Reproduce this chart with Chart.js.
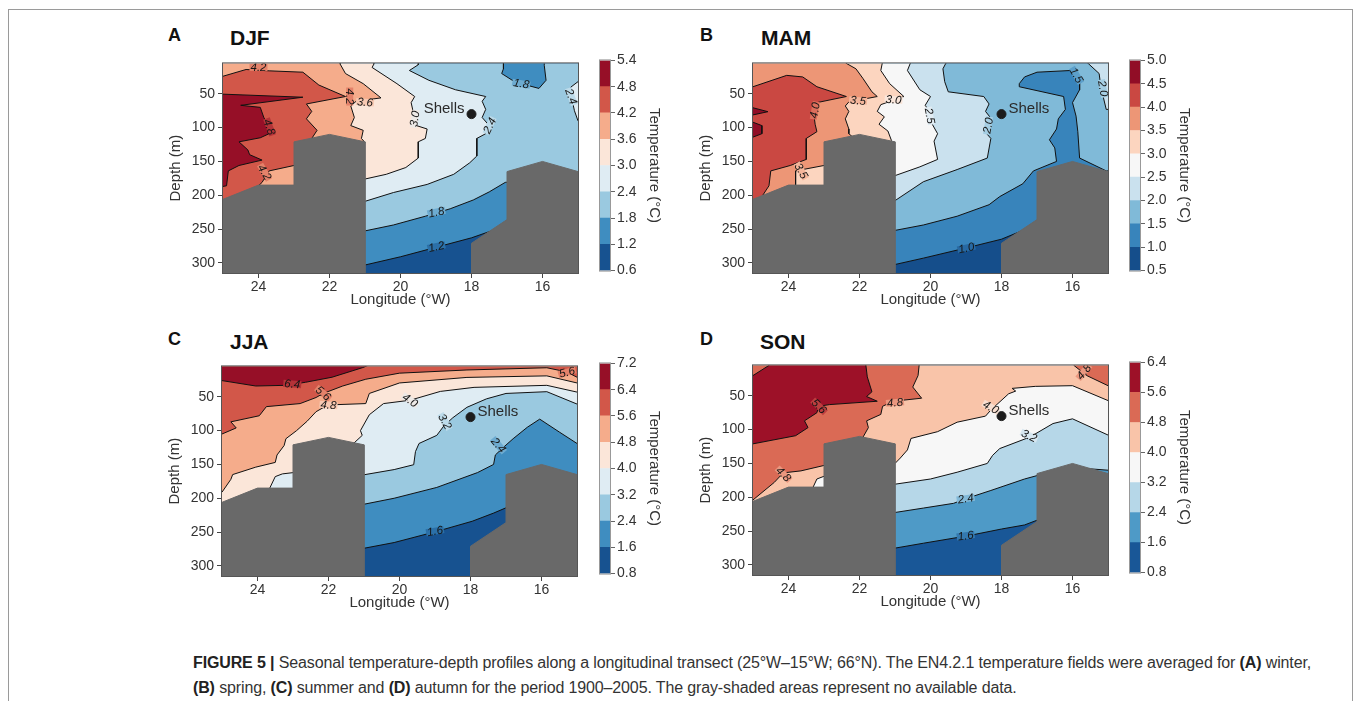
<!DOCTYPE html>
<html>
<head>
<meta charset="utf-8">
<script src="https://cdn.jsdelivr.net/npm/chart.js@4.4.1/dist/chart.umd.min.js"></script>
<style>
  body { margin: 0; background: #fff; font-family: "Liberation Sans", Arial, sans-serif; }
  #frame { position: absolute; left: 8px; top: 9px; width: 1343px; height: 730px; border: 1px solid #9a9a9a; }
  canvas { position: absolute; }
  .tag { position: absolute; font-weight: bold; color: #111; line-height: 1; }
  .cap { position: absolute; left: 193px; font-size: 16px; letter-spacing: -0.13px; color: #333; white-space: nowrap; line-height: 18px; }
  .cap b { color: #222; }
</style>
</head>
<body>
<div id="frame"></div>

<div class="tag" style="left:168px;top:26px;font-size:18px">A</div>
<div class="tag" style="left:230px;top:27px;font-size:21px">DJF</div>
<div class="tag" style="left:700px;top:26px;font-size:18px">B</div>
<div class="tag" style="left:761px;top:27px;font-size:21px">MAM</div>
<div class="tag" style="left:168px;top:330px;font-size:18px">C</div>
<div class="tag" style="left:230px;top:331px;font-size:21px">JJA</div>
<div class="tag" style="left:700px;top:330px;font-size:18px">D</div>
<div class="tag" style="left:760px;top:331px;font-size:21px">SON</div>

<canvas id="djf" width="421" height="257" style="left:163px;top:52px"></canvas>
<canvas id="djfBar" width="64" height="231" style="left:599px;top:50px"></canvas>
<canvas id="mam" width="421" height="257" style="left:693px;top:52px"></canvas>
<canvas id="mamBar" width="64" height="231" style="left:1129px;top:50px"></canvas>
<canvas id="jja" width="421" height="257" style="left:162px;top:355px"></canvas>
<canvas id="jjaBar" width="64" height="231" style="left:599px;top:353px"></canvas>
<canvas id="son" width="421" height="257" style="left:693px;top:354px"></canvas>
<canvas id="sonBar" width="64" height="231" style="left:1129px;top:352px"></canvas>

<div class="cap" style="top:654px"><b>FIGURE 5 |</b> Seasonal temperature-depth profiles along a longitudinal transect (25°W–15°W; 66°N). The EN4.2.1 temperature fields were averaged for <b>(A)</b> winter,</div>
<div class="cap" style="top:679px"><b>(B)</b> spring, <b>(C)</b> summer and <b>(D)</b> autumn for the period 1900–2005. The gray-shaded areas represent no available data.</div>

<script>
// axes
var lonTicks = [24, 22, 20, 18, 16];
var depthTicks = [50, 100, 150, 200, 250, 300];
var shells = [18.0, 80];

// no-data areas (lon °W, depth m)
var grayLeft = [[25.6,206],[25,206],[24,185],[23,185],[23,121],[22,110],[21,121],[21,340],[25.6,340]];
var grayRight = [[18,340],[18,271],[17,236],[17,165],[16,150],[15,165],[14.4,165],[14.4,340]];

// DJF: contour levels, regions warmer than a level [level, outline], labels [lon, depth, text, angle]
var djfLevels = [0.6, 1.2, 1.8, 2.4, 3.0, 3.6, 4.2, 4.8, 5.4];
var djfRegions = [
  [1.2, [[25.6,305],[21.15,305],[20.0,291],[19.0,277],[18.0,263],[17.4,252],[16.5,238],[14.4,238],[14.4,-20],[25.6,-20]]],
  [1.8, [[25.6,256],[21.3,256],[20.2,244],[19.3,231],[18.6,220],[17.95,207],[17.5,195],[17.05,181],[16.0,175],[14.4,175],[14.4,-20],[25.6,-20]]],
  [2.4, [[19.5,-20],[19.5,7],[19.75,15.5],[19.2,30],[18.45,44],[17.6,54],[17.7,61],[17.6,73],[17.7,85],[17.5,97],[17.6,109],[17.85,116],[17.85,142],[18.05,152],[18.5,169],[19.25,184],[20.2,196],[21.0,209],[21.5,222],[25.6,222],[25.6,-20]]],
  [3.0, [[20.75,-20],[20.75,6],[20.8,11],[20.1,35],[19.6,54],[19.7,63],[19.65,75],[19.6,87],[19.55,97],[19.25,102],[19.3,116],[19.5,121],[19.5,145],[19.85,159],[20.4,169],[21.0,176],[21.5,186],[21.5,230],[25.6,230],[25.6,-20]]],
  [3.6, [[21.7,-20],[21.7,6],[21.55,20],[21.05,35],[20.55,56],[21.25,61],[21.4,68],[21.3,85],[21.4,97],[21.05,104],[21.1,116],[21.0,122],[21.5,140],[21.5,240],[25.6,240],[25.6,-20]]],
  [4.2, [[25.6,24],[25.0,24],[24.35,14],[23.7,16],[22.75,18],[22.3,37],[21.55,54],[22.65,65],[22.5,76],[22.65,87],[22.35,104],[22.5,116],[22.7,126],[22.95,152],[23.0,156],[23.7,164],[23.9,181],[24.0,186],[24.15,219],[25.6,219]]],
  [4.8, [[25.6,50.5],[25.0,50.5],[22.75,55],[24.5,67],[23.95,70],[23.85,85],[23.75,95],[23.7,109],[23.95,115],[24.55,121],[24.3,133],[24.25,140],[23.9,148],[24.55,156],[24.85,164],[24.9,186],[25.0,187],[25.6,187]]],
  [1.2, [[17.1,-20],[17.1,13],[17.15,20],[16.85,30],[16.6,35],[16.1,42],[15.9,30],[15.95,8],[15.95,-20]]],
  [2.4, [[14.4,32],[15.0,32],[15.2,40],[15.3,49],[15.15,63],[15.1,75],[15.0,90],[14.4,90]]]
];
var djfLabels = [[24.0,11,'4.2',0],[21.43,54,'4.2',90],[21.0,62.5,'3.6',5],[23.69,99,'4.8',70],[19.6,87,'3.0',-80],
  [17.49,97,'2.4',-65],[16.6,35,'1.8',10],[15.19,54,'2.4',70],[18.99,225,'1.8',-12],[18.99,276,'1.2',-12],[23.83,166,'4.2',60]];

// MAM
var mamLevels = [0.5, 1.0, 1.5, 2.0, 2.5, 3.0, 3.5, 4.0, 4.5, 5.0];
var mamRegions = [
  [1.0, [[25.6,306],[21.3,306],[20.2,293],[19.0,278],[18.0,265],[17.4,252],[16.5,238],[14.4,238],[14.4,-20],[25.6,-20]]],
  [1.5, [[25.6,255],[21.3,255],[20.2,244],[19.25,231],[18.35,214],[18.05,202],[17.4,183],[17.1,164],[16.45,150],[16.5,130],[16.65,118],[16.45,102],[16.4,87],[16.2,73],[16.25,54],[17.5,39.5],[17.5,35],[17.35,25],[17.0,18],[16.05,15.5],[15.8,27.5],[15.8,44],[16.0,63],[15.9,83],[15.85,106],[15.8,145],[15.05,164],[14.4,164],[14.4,-20],[25.6,-20]]],
  [2.0, [[19.57,-20],[19.57,5],[19.65,13],[19.6,32],[19.5,47],[18.5,54],[18.35,65],[18.45,76],[18.3,86],[18.45,107],[18.3,116],[18.4,145],[19.25,162],[20.2,180],[21.0,208],[21.5,219],[25.6,219],[25.6,-20]]],
  [2.5, [[20.57,-20],[20.57,5],[20.65,15.5],[20.3,44],[20.0,54],[20.15,67],[20.0,78],[19.95,95],[19.8,109],[19.9,120],[19.8,147],[20.3,158],[21.0,171],[21.5,181],[21.5,230],[25.6,230],[25.6,-20]]],
  [3.0, [[21.36,-20],[21.36,5],[21.4,15.5],[21.15,35],[20.75,54],[21.4,66],[21.5,76],[21.3,84],[21.45,95],[21.2,105],[21.1,119],[21.5,142],[21.5,240],[25.6,240],[25.6,-20]]],
  [3.5, [[22.37,-20],[22.37,5],[22.1,13],[21.9,27.5],[21.65,47],[21.5,54],[22.3,62],[22.4,68],[22.3,76],[22.4,87],[22.3,102],[22.3,109],[22.1,118],[22.4,133],[22.95,152],[23.0,156],[23.8,164],[23.8,185],[24.0,219],[25.6,219],[25.6,-20]]],
  [4.0, [[25.6,39.5],[25.0,39.5],[24.05,22.7],[23.6,25],[23.2,39.5],[22.37,54],[23.2,63],[23.3,75],[23.25,95],[23.2,106],[23.5,116],[23.5,147],[23.95,156],[24.5,164],[24.55,186],[24.75,202],[24.9,219],[25.6,219]]],
  [4.5, [[25.6,70.6],[25.0,70.6],[24.58,76.4],[25.0,81.2],[25.6,81.2]]],
  [4.5, [[25.6,92],[25.0,92],[24.75,97],[24.75,109],[25.0,114],[25.6,114]]],
  [2.0, [[15.56,-20],[15.56,5],[15.25,20],[15.2,40],[15.05,73],[14.4,73],[14.4,-20]]]
];
var mamLabels = [[23.26,74.5,'4.0',-80],[22.04,60,'3.5',5],[21.04,58.6,'3.0',5],[20.02,82.6,'2.5',80],[18.38,97,'2.0',-80],
  [15.89,22.7,'1.5',60],[15.14,42,'2.0',80],[23.64,164,'3.5',60],[18.99,278,'1.0',-12]];

// JJA
var jjaLevels = [0.8, 1.6, 2.4, 3.2, 4.0, 4.8, 5.6, 6.4, 7.2];
var jjaRegions = [
  [1.6, [[25.6,277],[21.3,277],[20.15,265.5],[18.95,249],[17.95,234],[17.35,222],[16.95,213],[16.4,196],[14.4,196],[14.4,-20],[25.6,-20]]],
  [2.4, [[25.6,230],[21.5,230],[21.3,212],[20.15,200],[18.95,184],[17.8,162],[17.35,150],[17.3,136],[17.1,126],[16.8,112],[16.4,95],[16.05,83],[15.5,102],[15.0,119],[14.4,119],[14.4,-20],[25.6,-20]]],
  [3.2, [[25.6,240],[21.5,240],[21.3,168],[20.15,157.6],[19.6,150.4],[19.55,131],[19.45,119],[18.95,107],[18.75,93],[18.5,81],[18.1,65.5],[17.55,53],[17.0,45],[15.85,42.4],[15.0,60.7],[14.4,60.7],[14.4,-20],[25.6,-20]]],
  [4.0, [[25.6,240],[21.5,240],[21.5,129],[21.05,107],[21.1,100],[20.85,76.5],[20.45,60],[19.7,55],[18.85,42],[17.9,36],[15.85,33],[15.0,43],[14.4,43],[14.4,-20],[25.6,-20]]],
  [4.8, [[25.6,191],[25.0,191],[24.75,172],[24.7,165],[24.05,154],[23.5,147],[23.45,136],[23.25,122],[23.2,112],[22.9,100],[22.6,86],[22.35,72],[22.15,66],[22.0,62],[20.95,60],[20.85,45],[20.0,29.5],[18.1,21.3],[15.85,19],[15.0,29.5],[14.4,29.5],[14.4,-20],[25.6,-20]]],
  [5.6, [[25.6,105],[25.0,105],[24.6,96],[24.75,87],[23.95,78],[23.75,64.5],[22.8,60],[22.35,51],[22.15,45],[21.6,34],[20.95,24],[20.0,15],[18.1,10.3],[15.85,7],[15.3,13],[15.0,21],[14.4,21],[14.4,-20],[25.6,-20]]],
  [6.4, [[25.6,26],[25.0,26],[24.05,34],[23.2,33],[22.65,28.5],[21.9,21],[21.05,7],[20.9,4],[20.9,-20],[25.6,-20]]],
  [3.2, [[23.7,190],[23.5,168],[23.3,164],[22.98,162],[22.8,190]]]
];
var jjaLabels = [[23.02,31,'6.4',5],[22.15,44.8,'5.6',40],[22.0,62,'4.8',5],[19.7,55,'4.0',35],[18.72,86.6,'3.2',60],
  [17.21,121.6,'2.4',50],[19.0,248.7,'1.6',-10],[15.28,13.6,'5.6',-15]];

// SON
var sonLevels = [0.8, 1.6, 2.4, 3.2, 4.0, 4.8, 5.6, 6.4];
var sonRegions = [
  [1.6, [[25.6,278],[21.3,278],[20.2,268],[18.95,257],[18.0,247],[17.35,241],[17.0,234],[16.4,226],[14.4,226],[14.4,-20],[25.6,-20]]],
  [2.4, [[25.6,240],[21.5,240],[21.3,225],[20.2,216],[19.35,209],[19.0,202],[18.3,190],[17.35,173],[17.0,168],[16.0,156],[15.0,160],[14.4,160],[14.4,-20],[25.6,-20]]],
  [3.2, [[25.6,240],[21.5,240],[21.3,183],[20.0,173],[19.25,163],[18.4,150],[18.25,138],[18.05,128],[17.2,111],[16.55,91],[16.0,84],[15.0,108],[14.4,108],[14.4,-20],[25.6,-20]]],
  [4.0, [[25.6,240],[21.5,240],[21.3,152],[21.0,150],[20.85,142],[20.65,130],[20.55,113],[19.8,103],[19.25,89],[18.45,80],[18.3,71],[17.8,47],[17.6,43],[17.7,39],[17.05,36],[16.0,35],[15.0,57],[14.4,57],[14.4,-20],[25.6,-20]]],
  [4.8, [[20.32,-20],[20.32,5],[20.35,20],[20.5,37],[20.25,53.5],[21.05,58],[21.35,65.5],[21.4,77.5],[21.8,87],[21.75,97],[21.9,111],[22.1,130],[22.9,149],[23.0,153],[23.65,161],[24.15,164],[24.4,178],[25.0,204],[25.6,204],[25.6,-20]]],
  [4.8, [[16.0,-20],[15.96,5],[15.6,20],[15.0,35],[14.4,35],[14.4,-20]]],
  [5.6, [[25.6,20],[25.0,20],[24.55,5],[24.55,-20],[21.82,-20],[21.82,5],[21.78,22],[21.65,44],[21.8,51],[21.5,58],[22.85,63],[23.15,65.5],[23.2,75],[23.55,87],[23.45,97],[23.8,109],[25.0,121],[25.6,121]]],
  [3.2, [[23.35,190],[23.2,173],[23.0,169],[22.8,190]]]
];
var sonLabels = [[23.14,65.5,'5.6',45],[21.0,60,'4.8',-5],[24.14,166,'4.8',45],[15.68,14.6,'4.8',-50],[18.3,67,'4.0',30],
  [17.22,109,'3.2',25],[19.01,202,'2.4',-8],[19.01,257,'1.6',-8]];

var FONT = '"Liberation Sans", Arial, sans-serif';
var GRAY = '#696969';
var RDBU = [[5,48,97],[33,102,172],[67,147,195],[146,197,222],[209,229,240],[247,247,247],
            [253,219,199],[244,165,130],[214,96,77],[178,24,43],[103,0,31]];

function rdbu(t) {
  var p = t * 10, i = Math.min(9, Math.floor(p)), f = p - i;
  var a = RDBU[i], b = RDBU[i + 1];
  return a.map(function (v, k) { return Math.round(v + (b[k] - v) * f); });
}
function bandRgb(levels) {
  var n = levels.length - 1, out = [];
  for (var i = 0; i < n; i++) out.push(rdbu((i + 0.5) / n));
  return out;
}
function css(c) { return 'rgb(' + c.join(',') + ')'; }
function levelIndex(levels, t) {
  for (var i = 0; i < levels.length; i++) if (Math.abs(levels[i] - t) < 1e-6) return i;
  return 0;
}

function decor(labels, levels, cols, side) {
  return {
    id: 'decor',
    afterDatasetsDraw: function (chart) {
      var ctx = chart.ctx, a = chart.chartArea, x = chart.scales.x, y = chart.scales.y;
      ctx.save();
      ctx.beginPath(); ctx.rect(a.left, a.top, a.width, a.height); ctx.clip();
      ctx.font = 'italic 11.5px ' + FONT;
      ctx.textAlign = 'center'; ctx.textBaseline = 'middle';
      labels.forEach(function (l) {
        var k = levelIndex(levels, parseFloat(l[2]));
        var lo = cols[Math.max(0, k - 1)], hi = cols[Math.min(cols.length - 1, k)];
        var mix = lo.map(function (v, j) { return Math.round((v + hi[j]) / 2); });
        ctx.save();
        ctx.translate(x.getPixelForValue(l[0]), y.getPixelForValue(l[1]));
        ctx.rotate(l[3] * Math.PI / 180);
        var w = ctx.measureText(l[2]).width;
        ctx.fillStyle = css(mix);
        ctx.fillRect(-w / 2 - 1, -3.5, w + 2, 7);
        ctx.fillStyle = '#151515';
        ctx.fillText(l[2], 0, 0.5);
        ctx.restore();
      });
      var sx = x.getPixelForValue(shells[0]), sy = y.getPixelForValue(shells[1]);
      ctx.font = '15px ' + FONT;
      ctx.fillStyle = '#2a2a2a';
      ctx.textAlign = side < 0 ? 'right' : 'left';
      ctx.fillText('Shells', sx + side * 7, sy - 5);
      ctx.restore();
      ctx.save();
      ctx.strokeStyle = '#555'; ctx.lineWidth = 1;
      ctx.strokeRect(a.left - 0.5, a.top - 0.5, a.width + 1, a.height + 1);
      ctx.restore();
    }
  };
}

function panel(id, levels, regions, labels, side) {
  var cols = bandRgb(levels);
  var seq = [{ pts: [[25.6,-20],[14.4,-20],[14.4,340],[25.6,340]], color: css(cols[0]), kind: 'base' }];
  regions.forEach(function (r) {
    seq.push({ pts: r[1], color: css(cols[levelIndex(levels, r[0])]), kind: 'band' });
  });
  seq.push({ pts: grayLeft, color: GRAY, kind: 'gray' });
  seq.push({ pts: grayRight, color: GRAY, kind: 'gray' });

  var datasets = seq.map(function (s, i) {
    return {
      type: 'scatter',
      data: s.pts.map(function (p) { return { x: p[0], y: p[1] }; }),
      showLine: true,
      fill: 'shape',
      backgroundColor: s.color,
      borderColor: s.kind === 'band' ? '#111' : s.color,
      borderWidth: s.kind === 'base' ? 0 : 1,
      borderJoinStyle: 'round',
      pointRadius: 0,
      pointHoverRadius: 0,
      tension: 0,
      clip: 0,
      order: -i
    };
  });
  datasets.push({
    type: 'scatter',
    data: [{ x: shells[0], y: shells[1] }],
    pointRadius: 4.5,
    backgroundColor: '#1c1c1c',
    borderColor: '#1c1c1c',
    order: -1000
  });

  new Chart(document.getElementById(id), {
    type: 'scatter',
    data: { datasets: datasets },
    options: {
      responsive: false,
      animation: false,
      events: [],
      devicePixelRatio: 1,
      layout: { padding: { left: 0, top: 6, right: 6, bottom: 0 } },
      plugins: { legend: { display: false }, tooltip: { enabled: false } },
      scales: {
        x: {
          type: 'linear', reverse: true, min: 15, max: 25,
          afterBuildTicks: function (s) { s.ticks = lonTicks.map(function (v) { return { value: v }; }); },
          afterFit: function (s) { s.height = 36; },
          ticks: { color: '#333', font: { size: 14, family: FONT }, padding: 1, maxRotation: 0 },
          grid: { drawOnChartArea: false, tickLength: 5, color: '#444' },
          border: { display: false },
          title: { display: true, text: 'Longitude (°W)', color: '#333', font: { size: 15, family: FONT }, padding: 0 }
        },
        y: {
          type: 'linear', reverse: true, min: 5, max: 315,
          afterBuildTicks: function (s) { s.ticks = depthTicks.map(function (v) { return { value: v }; }); },
          afterFit: function (s) { s.width = 60; },
          ticks: { color: '#333', font: { size: 14, family: FONT }, padding: 3 },
          grid: { drawOnChartArea: false, tickLength: 5, color: '#444' },
          border: { display: false },
          title: { display: true, text: 'Depth (m)', color: '#333', font: { size: 15, family: FONT }, padding: { top: 4, bottom: 0 } }
        }
      }
    },
    plugins: [decor(labels, levels, cols, side)]
  });
}

function colorbar(id, levels) {
  var cols = bandRgb(levels);
  var datasets = cols.map(function (c, i) {
    return { data: [[levels[i], levels[i + 1]]], backgroundColor: css(c), borderWidth: 0,
             barPercentage: 1, categoryPercentage: 1, grouped: false };
  });
  new Chart(document.getElementById(id), {
    type: 'bar',
    data: { labels: [''], datasets: datasets },
    options: {
      responsive: false,
      animation: false,
      events: [],
      devicePixelRatio: 1,
      layout: { padding: { left: 0, top: 8, right: 0, bottom: 8 } },
      plugins: { legend: { display: false }, tooltip: { enabled: false } },
      scales: {
        x: { display: false },
        y: {
          position: 'right', min: levels[0], max: levels[levels.length - 1],
          afterBuildTicks: function (s) { s.ticks = levels.map(function (v) { return { value: v }; }); },
          afterFit: function (s) { s.width = 52; },
          ticks: { color: '#333', font: { size: 14, family: FONT }, padding: 2,
                   callback: function (v) { return Number(v).toFixed(1); } },
          grid: { drawOnChartArea: false, tickLength: 4, color: '#666' },
          border: { display: false },
          title: { display: true, text: 'Temperature (°C)', color: '#333', font: { size: 15, family: FONT }, padding: 0 }
        }
      }
    },
    plugins: [{
      id: 'cbframe',
      afterDatasetsDraw: function (chart) {
        var a = chart.chartArea, ctx = chart.ctx;
        ctx.save(); ctx.strokeStyle = '#999'; ctx.lineWidth = 1;
        ctx.strokeRect(a.left + 0.5, a.top - 0.5, a.width - 1, a.height + 1);
        ctx.restore();
      }
    }]
  });
}

panel('djf', djfLevels, djfRegions, djfLabels, -1);
panel('mam', mamLevels, mamRegions, mamLabels, 1);
panel('jja', jjaLevels, jjaRegions, jjaLabels, 1);
panel('son', sonLevels, sonRegions, sonLabels, 1);
colorbar('djfBar', djfLevels);
colorbar('mamBar', mamLevels);
colorbar('jjaBar', jjaLevels);
colorbar('sonBar', sonLevels);
</script>
</body>
</html>
